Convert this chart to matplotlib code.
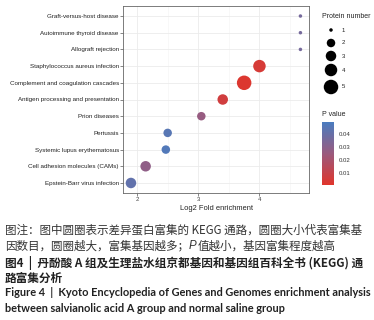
import matplotlib
matplotlib.use("Agg")
import matplotlib.pyplot as plt
from matplotlib.colors import LinearSegmentedColormap, Normalize
import numpy as np

plt.rcParams['font.family'] = ['Liberation Sans', 'DejaVu Sans']

pathways = ['Graft-versus-host disease', 'Autoimmune thyroid disease', 'Allograft rejection',
            'Staphylococcus aureus infection', 'Complement and coagulation cascades',
            'Antigen processing and presentation', 'Prion diseases', 'Pertussis',
            'Systemic lupus erythematosus', 'Cell adhesion molecules (CAMs)',
            'Epstein-Barr virus infection']
fold = [4.67, 4.67, 4.67, 4.0, 3.75, 3.4, 3.05, 2.5, 2.47, 2.14, 1.9]
count = [1, 1, 1, 4, 5, 3, 2, 2, 2, 3, 3]
pvalue = [0.036, 0.036, 0.036, 0.004, 0.002, 0.006, 0.026, 0.045, 0.047, 0.028, 0.042]

legend_counts = [1, 2, 3, 4, 5]
cbar_ticks = [0.01, 0.02, 0.03, 0.04]

# marker diameter (px) per protein count
diam = {1: 3.5, 2: 8.5, 3: 10.5, 4: 12.5, 5: 14.5}
def area(n):
    return (diam[n] * 0.72) ** 2

cmap = LinearSegmentedColormap.from_list('pv', ['#e0352b', '#9a5a7e', '#4a7dc0'])
norm = Normalize(vmin=0.0003, vmax=0.0495)

fig = plt.figure(figsize=(3.74, 3.20), dpi=100)
ax = fig.add_axes([123/374, 1 - 193/320, 186/374, 187/320])

y = np.arange(len(pathways))[::-1]
ax.scatter(fold, y, s=[area(n) for n in count], c=pvalue, cmap=cmap, norm=norm,
           edgecolors='none', zorder=3)

ax.set_xlim(1.77, 4.81)
ax.set_ylim(-0.6, len(pathways) - 0.4)
ax.set_yticks(y)
ax.set_yticklabels(pathways, fontsize=4.5, color='#222222')
ax.set_xticks([2, 3, 4])
ax.set_xticklabels(['2', '3', '4'], fontsize=4.3, color='#444444')
ax.set_xticks([2.5, 3.5, 4.5], minor=True)
ax.tick_params(axis='both', length=2, width=0.5, color='#555555', pad=1)
ax.tick_params(axis='x', which='minor', length=0)
ax.grid(True, which='major', color='#ebebeb', lw=0.6, zorder=0)
ax.grid(True, which='minor', axis='x', color='#f4f4f4', lw=0.4, zorder=0)
for sp in ax.spines.values():
    sp.set_color('#666666')
    sp.set_linewidth(0.6)
ax.set_xlabel('Log2 Fold enrichment', fontsize=5.4, labelpad=2, color='#222222')

# size legend, drawn in a pixel-coordinate overlay
lax = fig.add_axes([0, 0, 1, 1])
lax.set_xlim(0, 374)
lax.set_ylim(320, 0)
lax.axis('off')
key_y = [30, 43, 56, 70, 87]
lax.scatter([331] * len(legend_counts), key_y, s=[area(n) for n in legend_counts],
            color='black', edgecolors='none')
for n, ky in zip(legend_counts, key_y):
    lax.text(342, ky, str(n), fontsize=4.3, va='center', color='#222222')
lax.text(322, 17, 'Protein number', fontsize=5, va='center', color='#222222')

# colour bar
cax = fig.add_axes([322/374, 1 - 185/320, 12/374, 63/320])
sm = matplotlib.cm.ScalarMappable(norm=norm, cmap=cmap)
cb = fig.colorbar(sm, cax=cax, ticks=cbar_ticks)
cb.outline.set_visible(False)
cb.ax.tick_params(labelsize=4.3, length=2, width=0.4, color='white', pad=1.5,
                  labelcolor='#333333')
cb.ax.set_yticklabels(['0.01', '0.02', '0.03', '0.04'])
fig.text(322/374, 1 - 115/320, 'P value', fontsize=5, color='#222222', va='center')

# caption
cjk = ['Noto Sans CJK SC', 'DejaVu Sans']
fig.text(5/374, 1 - 230/320, '图注：图中圆圈表示差异蛋白富集的 KEGG 通路，圆圈大小代表富集基',
         fontsize=8.3, family=cjk, color='#333333', va='center')
renderer = fig.canvas.get_renderer()
t1 = fig.text(5/374, 1 - 246/320, '因数目，圆圈越大，富集基因越多；', fontsize=8.3,
              family=cjk, color='#333333', va='center')
x1 = t1.get_window_extent(renderer).x1 / fig.bbox.width
t2 = fig.text(x1, 1 - 246/320, 'P', fontsize=8.3, family=['Liberation Sans'],
              style='italic', color='#333333', va='center')
x2 = t2.get_window_extent(renderer).x1 / fig.bbox.width
fig.text(x2 + 0.004, 1 - 246/320, '值越小，基因富集程度越高', fontsize=8.3, family=cjk,
         color='#333333', va='center')
fig.text(5/374, 1 - 263/320, '图4  |  丹酚酸 A 组及生理盐水组京都基因和基因组百科全书 (KEGG) 通',
         fontsize=8.4, family=cjk, weight='bold', color='#222222', va='center')
fig.text(5/374, 1 - 278/320, '路富集分析', fontsize=8.4, family=cjk, weight='bold',
         color='#222222', va='center')
fig.text(5/374, 1 - 293/320, 'Figure 4  |  Kyoto Encyclopedia of Genes and Genomes enrichment analysis',
         fontsize=7.9, family=['Lato', 'DejaVu Sans'], weight='bold', color='#222222', va='center')
fig.text(5/374, 1 - 308/320, 'between salvianolic acid A group and normal saline group',
         fontsize=7.9, family=['Lato', 'DejaVu Sans'], weight='bold', color='#222222', va='center')

fig.savefig('out.png', dpi=100)
